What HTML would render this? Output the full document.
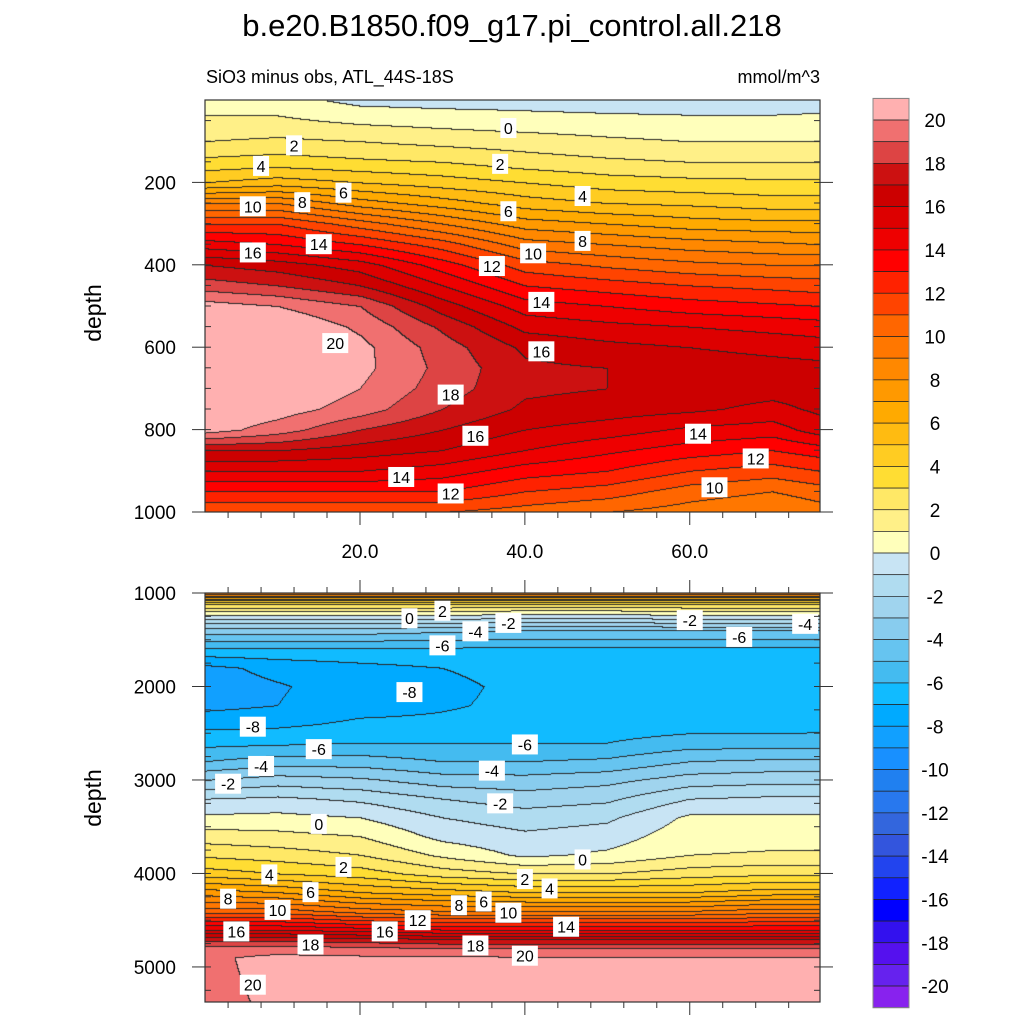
<!DOCTYPE html>
<html><head><meta charset="utf-8"><style>
body{margin:0;background:#fff;width:1024px;height:1024px;overflow:hidden;font-family:"Liberation Sans",sans-serif}
svg text{font-family:"Liberation Sans",sans-serif}
</style></head><body>
<svg id="svg" width="1024" height="1024" xmlns="http://www.w3.org/2000/svg">
<text x="512" y="36" font-size="31" text-anchor="middle">b.e20.B1850.f09_g17.pi_control.all.218</text>
<text x="206" y="83" font-size="18">SiO3 minus obs, ATL_44S-18S</text>
<text x="820" y="83" font-size="18" text-anchor="end">mmol/m^3</text>
<text transform="translate(101,313) rotate(-90)" font-size="23" text-anchor="middle">depth</text>
<text transform="translate(101,798) rotate(-90)" font-size="23" text-anchor="middle">depth</text>
<foreignObject x="205" y="100" width="615" height="412"><canvas xmlns="http://www.w3.org/1999/xhtml" id="c1" width="615" height="412"></canvas></foreignObject>
<foreignObject x="205" y="593" width="615" height="409"><canvas xmlns="http://www.w3.org/1999/xhtml" id="c2" width="615" height="409"></canvas></foreignObject>
<g id="overlay"></g>
</svg>
<script>
const lats=[1.2,10,20,30,40,50,60,70,75.8];
const depthsTop=[0,50,100,150,200,250,300,350,400,450,500,550,600,650,700,750,800,850,900,950,1000];
const valsTop=[
[0.5,1.2,2,3.3,5,9,12,14.5,17,18.5,20.5,21,21,21,21,21,20.5,17,15,13,11],
[0.4,1.2,2.2,3.5,5.5,9,12,14,16.5,18,20,21,21,21,21,20.5,19.5,17,15,13,11],
[-0.3,0.8,2,3.2,5,7.5,10.5,13,15.5,17,19,19.8,20.3,20.3,20,19.5,18,16.5,15,13,11],
[-0.4,0.6,1.7,3,4.5,6.5,9,11.5,13.5,15,16.5,17.8,18.5,18.7,18.5,18,17,16,14.5,13,11],
[-0.4,0.4,1.5,2.5,4,5.5,7.5,9.5,11.5,13,14.5,15.7,16.8,17.2,17.2,16.8,16,15,13.5,12,10.5],
[-0.5,0.3,1.2,2.2,3.5,5,7,9,10.8,12.5,14,15.3,16.3,17,17,16.5,15.5,14.2,13,11.5,10],
[-0.5,0.2,1,2,3.3,4.8,6.5,8.5,10.3,12,13.5,15,16,16.6,16.6,16.2,14.8,13.5,12,10.5,9.5],
[-0.5,0.2,1,2,3.2,4.5,6.3,8.2,10,11.7,13.2,14.7,15.7,16.4,16.4,15.7,14.5,13,11.5,10,9],
[-0.5,0.3,1,2,3.2,4.5,6.3,8,10,11.5,13,14.5,15.5,16.3,16.5,16.2,15.5,13.5,12,10.5,9.5]];
const depthsBot=[1000,1100,1200,1300,1400,1600,1800,2000,2200,2400,2600,2800,3000,3200,3400,3600,3800,4000,4200,4400,4600,4700,4800,4900,5000,5375];
const valsBot=[
[10,3.5,0.8,-1.5,-3.5,-6.2,-8.3,-8.5,-8.3,-7.3,-6.3,-5,-3,-1,0.2,1.5,2.8,4.5,7.5,10.5,15,17.5,19.5,19.8,19.6,19.5],
[10,3.5,0.8,-1.5,-3.5,-6.2,-7.7,-8.1,-8.0,-7.2,-6.2,-4.5,-2.5,-0.8,0.3,1.3,2.5,4,7,10.5,15,17.5,19.5,20.3,20.5,20.3],
[10,3.5,0.8,-1.5,-3.5,-6.2,-7.3,-7.5,-7.4,-6.8,-6.0,-4.5,-2.8,-1.2,0,1,2,3.5,6,9.5,14.5,17.3,19.3,20.2,21,21],
[10,3.5,0.8,-1.5,-3.8,-6.2,-7.0,-7.2,-7.1,-6.8,-6.0,-5,-3.5,-2,-1,-0.3,0.8,2.5,5.5,9,14,17,19,20.2,21,21],
[10,3.5,0.6,-1.8,-4,-6.2,-6.7,-6.8,-6.8,-6.7,-6.0,-5,-3.6,-2.5,-1.5,-0.8,-0.2,2,5,9,14,17,19,20.1,21,21],
[10,3.5,0.6,-1.8,-4,-6.2,-6.6,-6.7,-6.7,-6.6,-6.0,-4.8,-3.3,-2.2,-1.2,-0.5,0.2,2,5,9,14,17,19,20.1,21,21],
[10,3.5,0.8,-1.5,-4,-6.2,-6.6,-6.7,-6.7,-6.5,-5.5,-4,-2.5,-1,0.2,0.6,1,2.5,5,9,14,17,19,20.1,21,21],
[10,3.5,0.8,-1.5,-4,-6.2,-6.6,-6.8,-6.7,-6.5,-5.5,-3.8,-2.3,-0.8,0.2,0.7,1.1,2.8,5.5,9.5,14,17,19,20.1,21,21],
[10,3.5,0.8,-1.5,-4,-6.2,-6.6,-6.8,-6.7,-6.4,-5.5,-3.8,-2.3,-0.8,0.2,0.7,1.1,2.8,5.5,9.5,14,17,19,20.1,21,21]];
// colors from lowest (<-20) to highest (>=20)
const colors=["#8822ee","#6622ee","#5511ee","#3311ee","#0000ff","#1122ff","#2244ee","#3355dd","#3366dd","#2878ee","#2080f0","#1890ff","#11a0ff","#00aaff","#11bbff","#44bbf0","#66c4f0","#88ccee","#a0d4ee","#b0dcf0","#c8e4f4",
"#ffffbb","#fff088","#ffe866","#ffdd33","#ffcc22","#ffbb11","#ffaa00","#ff9900","#ff8800","#ff7700","#ff6600","#ff4400","#ff2200","#ff0000","#ee0000","#dd0000","#cc0000","#cc1111","#dd4444","#f07070","#ffb0b0"];
const cbTicks=[20,18,16,14,12,10,8,6,4,2,0,-2,-4,-6,-8,-10,-12,-14,-16,-18,-20];
const topYTicks=[200,400,600,800,1000];
const botYTicks=[1000,2000,3000,4000,5000];
const xTicks=[20,40,60];
const labelsTop=[[12,110,"2"],[8,160,"4"],[18,225,"6"],[13,248,"8"],[7,258,"10"],[15,350,"14"],[7,370,"16"],[38,68,"0"],[37,155,"2"],[38,270,"6"],[41,372,"10"],[36,403,"12"],[42,490,"14"],[42,610,"16"],[31,715,"18"],[34,815,"16"],[25,915,"14"],[31,955,"12"],[17,590,"20"],[47,233,"4"],[47,342,"8"],[61,810,"14"],[68,870,"12"],[63,940,"10"]];
const labelsBot=[[26,1270,"0"],[30,1190,"2"],[34,1410,"-4"],[38,1320,"-2"],[30,1560,"-6"],[26,2060,"-8"],[74,1330,"-4"],[66,1470,"-6"],[60,1290,"-2"],[7,2430,"-8"],[15,2670,"-6"],[8,2850,"-4"],[4,3040,"-2"],[15,3470,"0"],[18,3930,"2"],[9,4010,"4"],[14,4200,"6"],[4,4270,"8"],[10,4390,"10"],[5,4620,"16"],[14,4760,"18"],[7,5190,"20"],[40,2620,"-6"],[36,2900,"-4"],[37,3250,"-2"],[40,4060,"2"],[43,4160,"4"],[32,4340,"8"],[35,4300,"6"],[38,4420,"10"],[27,4500,"12"],[23,4620,"16"],[34,4770,"18"],[40,4880,"20"],[45,4570,"14"],[47,3850,"0"]];
const X0=205,X1=820;
const xs=v=>X0+(v-1.2)*(X1-X0)/(75.8-1.2);
const yTop=d=>100+d*0.412;
const yBot=d=>593+(d-1000)*(409/4375);
function interp(arr,v){let i=0;while(i<arr.length-2&&v>arr[i+1])i++;let t=(v-arr[i])/(arr[i+1]-arr[i]);t=Math.max(0,Math.min(1,t));return [i,t];}
function levelIdx(v){return Math.max(0,Math.min(41,Math.floor(v)+21));}
function hex(c){return [parseInt(c.slice(1,3),16),parseInt(c.slice(3,5),16),parseInt(c.slice(5,7),16)];}
const rgb=colors.map(hex);
function draw(id,depths,vals,d0,d1){
 const cv=document.getElementById(id),ctx=cv.getContext('2d'),W=cv.width,H=cv.height;
 const img=ctx.createImageData(W,H);const lv=new Int16Array(W*H);
 for(let py=0;py<H;py++){const d=d0+(py+0.5)/H*(d1-d0);const [j,u]=interp(depths,d);
  for(let px=0;px<W;px++){const la=1.2+(px+0.5)/W*(75.8-1.2);const [i,t]=interp(lats,la);
   const a=vals[i][j]*(1-u)+vals[i][j+1]*u,b=vals[i+1][j]*(1-u)+vals[i+1][j+1]*u;
   lv[py*W+px]=levelIdx(a*(1-t)+b*t);}}
 for(let p=0;p<W*H;p++){const px=p%W,py=(p/W)|0;let c=rgb[lv[p]];
  const e=(px>0&&lv[p-1]!=lv[p])||(py>0&&lv[p-W]!=lv[p]);
  if(e)c=[40,40,40];img.data[p*4]=c[0];img.data[p*4+1]=c[1];img.data[p*4+2]=c[2];img.data[p*4+3]=255;}
 ctx.putImageData(img,0,0);
}
draw('c1',depthsTop,valsTop,0,1000);
draw('c2',depthsBot,valsBot,1000,5375);
const NS="http://www.w3.org/2000/svg",ov=document.getElementById('overlay');
function mk(tag,attrs,parent){const e=document.createElementNS(NS,tag);for(const k in attrs)e.setAttribute(k,attrs[k]);(parent||ov).appendChild(e);return e;}
function addLabels(list,yf,name){list.forEach(l=>{const x=xs(l[0]),y=yf(l[1]);const w=l[2].length*10+6;
 const g=mk('g',{});
 
 
 mk('rect',{x:x-w/2,y:y-10,width:w,height:20,fill:'#fff'},g);
 const t=mk('text',{x:x,y:y+6,'font-size':16,'text-anchor':'middle'},g);t.textContent=l[2];});}
addLabels(labelsTop,yTop,'contour-label-top');
addLabels(labelsBot,yBot,'contour-label-bottom');
function frame(y0,y1,name){const r=mk('rect',{x:X0,y:y0,width:X1-X0,height:y1-y0,fill:'none',stroke:'#333','stroke-width':1.2});
 
 }
frame(100,512,'plot-frame-top');frame(593,1002,'plot-frame-bottom');
function xAxis(y,dir,labels){for(let v=4;v<=76;v+=4){const x=xs(v);if(x>X1)continue;const maj=v%20==0;mk('line',{x1:x,x2:x,y1:y,y2:y+dir*(maj?13:6),stroke:'#333'});}
 if(labels)xTicks.forEach(v=>{const t=mk('text',{x:xs(v),y:y+46,'font-size':19,'text-anchor':'middle'});
  
  
  t.textContent=v.toFixed(1);});}
xAxis(512,1,true);xAxis(593,-1,false);xAxis(1002,1,false);
function yAxis(ticks,yf,minorStep,dmin,dmax){for(let d=Math.ceil(dmin/minorStep)*minorStep;d<=dmax;d+=minorStep){const y=yf(d);if(y<yf(dmin)+1)continue;
  mk('line',{x1:X0,x2:X0+6,y1:y,y2:y,stroke:'#333'});mk('line',{x1:X1,x2:X1-6,y1:y,y2:y,stroke:'#333'});}
 ticks.forEach(d=>{const y=yf(d);mk('line',{x1:X0,x2:X0-13,y1:y,y2:y,stroke:'#333'});mk('line',{x1:X1,x2:X1+13,y1:y,y2:y,stroke:'#333'});
  const t=mk('text',{x:176,y:y+7,'font-size':19,'text-anchor':'end'});
  
  
  t.textContent=d;});}
yAxis(topYTicks,yTop,50,0,1000);yAxis(botYTicks,yBot,250,1000,5375);
const cbTop=98.4,cbStep=21.65,cbX=873,cbW=36;
for(let k=0;k<42;k++){const ci=41-k;const r=mk('rect',{x:cbX,y:cbTop+k*cbStep,width:cbW,height:cbStep,fill:colors[ci],stroke:'#222','stroke-width':0.7});
 
 }
mk('rect',{x:cbX,y:cbTop,width:cbW,height:42*cbStep,fill:'none',stroke:'#888','stroke-width':1});
cbTicks.forEach(v=>{const y=cbTop+(21-v)*cbStep;const t=mk('text',{x:935,y:y+7,'font-size':19,'text-anchor':'middle'});
 
 
 t.textContent=v;});
</script>
</body></html>
